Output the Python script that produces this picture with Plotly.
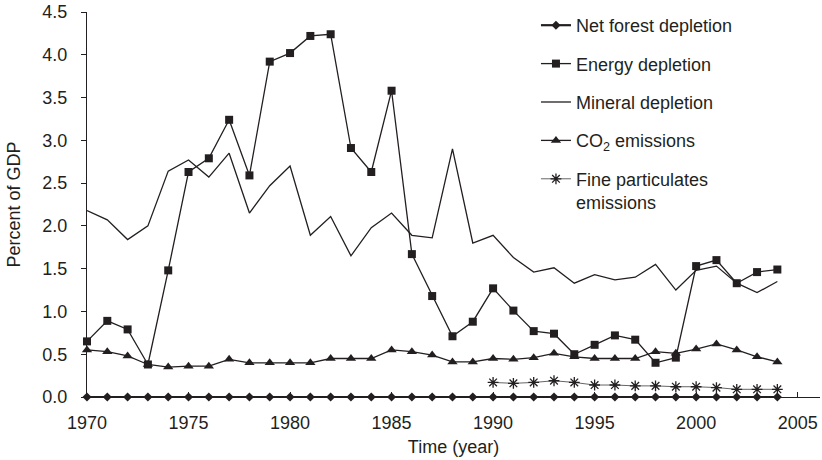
import plotly.graph_objects as go

years = list(range(1970, 2005))
fp_years = list(range(1990, 2005))

net_forest = [0.0] * len(years)

energy = [0.65, 0.89, 0.79, 0.38, 1.48, 2.63, 2.79, 3.24, 2.59, 3.92,
          4.02, 4.22, 4.24, 2.91, 2.63, 3.58, 1.67, 1.18, 0.71, 0.88,
          1.27, 1.01, 0.77, 0.74, 0.50, 0.61, 0.72, 0.67, 0.40, 0.46,
          1.53, 1.60, 1.33, 1.46, 1.49]

mineral = [2.18, 2.07, 1.84, 2.00, 2.64, 2.77, 2.57, 2.85, 2.15, 2.47,
           2.70, 1.89, 2.11, 1.65, 1.98, 2.15, 1.89, 1.86, 2.90, 1.80,
           1.89, 1.63, 1.46, 1.51, 1.33, 1.43, 1.37, 1.40, 1.55, 1.25,
           1.48, 1.53, 1.33, 1.22, 1.35]

co2 = [0.55, 0.53, 0.48, 0.38, 0.35, 0.36, 0.36, 0.44, 0.40, 0.40,
       0.40, 0.40, 0.45, 0.45, 0.45, 0.55, 0.53, 0.49, 0.41, 0.41,
       0.45, 0.44, 0.46, 0.51, 0.47, 0.45, 0.45, 0.45, 0.53, 0.51,
       0.56, 0.62, 0.55, 0.47, 0.41]

fine_part = [0.17, 0.16, 0.17, 0.19, 0.17, 0.14, 0.14, 0.13, 0.13, 0.12,
             0.12, 0.11, 0.09, 0.09, 0.09]

x_ticks = [1970, 1975, 1980, 1985, 1990, 1995, 2000, 2005]

INK = "#231f20"
FONT = "Liberation Sans, Arial, Helvetica, sans-serif"

fig = go.Figure()

fig.add_trace(go.Scatter(
    x=years, y=net_forest, name="Net forest depletion", mode="lines+markers",
    line=dict(color=INK, width=2.2), marker=dict(symbol="diamond", size=7, color=INK),
    legendgroup="a", cliponaxis=False))
fig.add_trace(go.Scatter(
    x=years, y=energy, name="Energy depletion", mode="lines+markers",
    line=dict(color=INK, width=1.3), marker=dict(symbol="square", size=8, color=INK),
    legendgroup="b", cliponaxis=False))
fig.add_trace(go.Scatter(
    x=years, y=mineral, name="Mineral depletion", mode="lines",
    line=dict(color=INK, width=1.3), legendgroup="c", cliponaxis=False))
fig.add_trace(go.Scatter(
    x=years, y=co2, name="CO<sub>2</sub> emissions", mode="lines+markers",
    line=dict(color=INK, width=1.3), marker=dict(symbol="triangle-up", size=9, color=INK),
    legendgroup="d", cliponaxis=False))
fig.add_trace(go.Scatter(
    x=fp_years, y=fine_part, name="Fine particulates<br>emissions", mode="lines+markers",
    line=dict(color="#666666", width=1.0),
    marker=dict(symbol="asterisk-open", size=9, color=INK, line=dict(color=INK, width=1.3)),
    legendgroup="e", cliponaxis=False))

fig.update_layout(
    template="none",
    width=822, height=460,
    margin=dict(l=87, r=2, t=12, b=63, autoexpand=False),
    paper_bgcolor="white", plot_bgcolor="white",
    font=dict(family=FONT, size=18, color=INK),
    showlegend=True,
    legend=dict(
        x=0.6125, y=1.013, xanchor="left", yanchor="top",
        bgcolor="rgba(0,0,0,0)", borderwidth=0,
        font=dict(family=FONT, size=18, color=INK),
        tracegroupgap=12, traceorder="grouped", valign="top",
    ),
    xaxis=dict(
        range=[1970, 2006.1], tickvals=x_ticks, ticks="inside", ticklen=5,
        tickcolor=INK, tickwidth=1.2, showline=True, linecolor=INK, linewidth=1.3,
        showgrid=False, zeroline=False, automargin=False, ticklabelstandoff=9,
        title=dict(text="Time (year)", standoff=8, font=dict(size=18)),
        tickfont=dict(size=18),
    ),
    yaxis=dict(
        range=[0, 4.5], dtick=0.5, tickformat=".1f", ticks="outside", ticklen=5,
        tickcolor=INK, tickwidth=1.2, showline=True, linecolor=INK, linewidth=1.3,
        showgrid=False, zeroline=False, automargin=False, ticklabelstandoff=10,
        title=dict(text="Percent of GDP", standoff=16, font=dict(size=18)),
        tickfont=dict(size=18),
    ),
)

fig.write_html(
    "out.html",
    config={"displayModeBar": False},
    post_script="document.body.style.margin='0';document.body.style.padding='0';",
)
